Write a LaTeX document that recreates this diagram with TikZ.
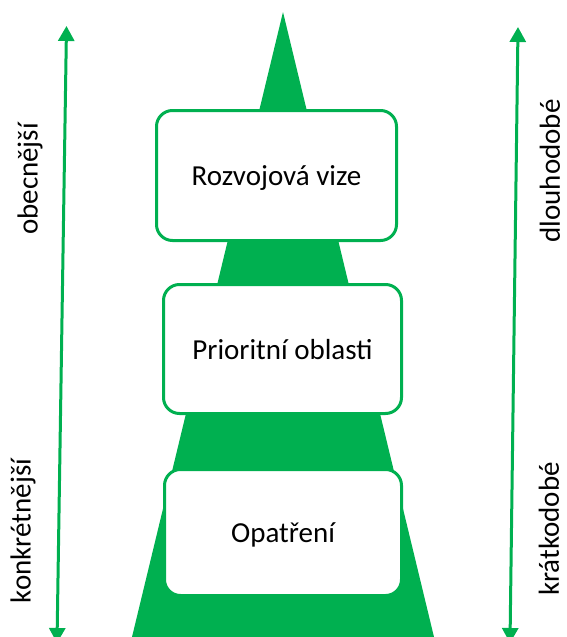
\documentclass[tikz,border=0pt]{standalone}
\usepackage{fontspec}
\setmainfont{Carlito}
\usepackage{xcolor}
\usepackage{tikz}
\usetikzlibrary{arrows.meta,positioning}
\definecolor{vgreen}{HTML}{00B050}
\tikzset{
  stage/.style={draw=vgreen, line width=3pt, fill=white, rounded corners=16pt, text centered, text depth=0pt, font=\fontsize{29}{34}\selectfont},
  side/.style={rotate=90, inner sep=0pt, font=\fontsize{29}{34}\selectfont},
  span/.style={draw=vgreen, line width=3pt, {Triangle[width=16pt,length=15pt]}-{Triangle[width=16pt,length=15pt]}}
}
\begin{document}
\begin{tikzpicture}[x=1pt,y=-1pt]
  \clip (0,0) rectangle (567,637);
  % pyramid behind the boxes
  \coordinate (apex) at (283,12);
  \coordinate (baseL) at (132,637);
  \coordinate (baseR) at (434,637);
  \fill[vgreen] (apex) -- (baseR) -- (baseL) -- cycle;
  % levels
  \node[stage, minimum width=240pt, minimum height=130pt] (vize) at (276.5,175.5) {Rozvojová vize};
  \node[stage, minimum width=238pt, minimum height=129pt] (oblasti) at (282.5,349) {Prioritní oblasti};
  \node[stage, minimum width=237pt, minimum height=126pt] (opatreni) at (283,532.5) {Opatření};
  % side arrows
  \coordinate (ltop) at (66.5,26);
  \coordinate (lbot) at (57,643);
  \coordinate (rtop) at (518,27);
  \coordinate (rbot) at (510,643);
  \draw[span] (lbot) -- (ltop);
  \draw[span] (rbot) -- (rtop);
  \node[side] (obec) at (30,179) {obecnější};
  \node[side] (konkr) at (23,531) {konkrétnější};
  \node[side] (dlouho) at (550,171) {dlouhodobé};
  \node[side] (kratko) at (549,529) {krátkodobé};
\end{tikzpicture}
\end{document}
